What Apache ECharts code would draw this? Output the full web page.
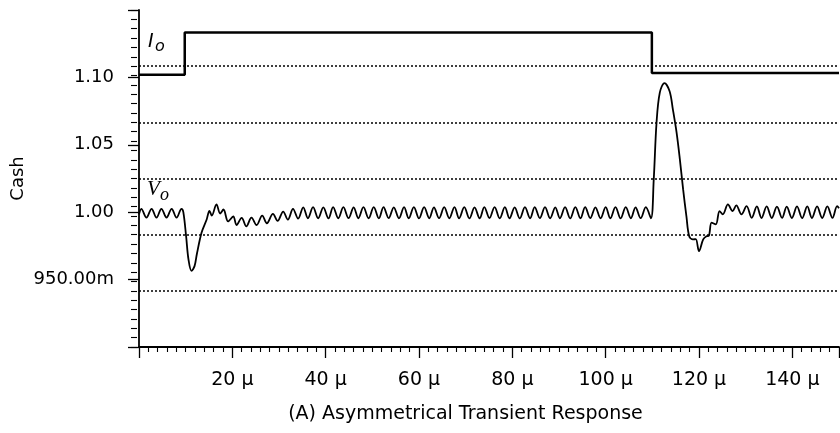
<!DOCTYPE html>
<html>
<head>
<meta charset="utf-8">
<script src="https://cdn.jsdelivr.net/npm/echarts@6/dist/echarts.min.js"></script>
<style>
html,body{margin:0;padding:0;background:#fff;}
#main{width:840px;height:433px;}
</style>
</head>
<body>
<div id="main"></div>
<script>
/* Io : step current */
var ioTime = [0, 9.8, 109.9, 150];
var ioLevel = [1.102, 1.1333, 1.1032, 1.1032];

/* Vo : output with ripple (peaks / troughs) */
var voTime = [
	0, 0.5, 1.6, 2.7, 3.75, 4.8, 5.9, 7.0, 8.05, 9.1,
	9.5, 10.1, 10.6, 11.25, 11.9, 12.4, 13.4, 14.5, 15.1, 15.6,
	16.6, 17.4, 18.1, 19.1, 20.2, 20.9, 22.0, 23.0, 24.1, 25.2,
	26.4, 27.4, 28.7, 29.7, 30.9, 31.9, 33.0, 34.1, 35.2, 36.2,
	37.3, 38.4, 39.5, 40.6, 41.6, 42.7, 43.8, 44.9, 46.0, 47.0,
	48.1, 49.2, 50.3, 51.4, 52.4, 53.5, 54.6, 55.7, 56.8, 57.8,
	58.9, 60.0, 61.1, 62.2, 63.2, 64.3, 65.4, 66.5, 67.6, 68.6,
	69.7, 70.8, 71.9, 73.0, 74.0, 75.1, 76.2, 77.3, 78.4, 79.4,
	80.5, 81.6, 82.7, 83.8, 84.8, 85.9, 87.0, 88.1, 89.2, 90.2,
	91.3, 92.4, 93.5, 94.6, 95.6, 96.7, 97.8, 98.9, 100.0, 101.0,
	102.1, 103.2, 104.3, 105.4, 106.4, 107.5, 108.6, 109.7, 110.3, 110.9,
	111.6, 112.6, 113.7, 114.4, 115.2, 115.9, 116.6, 117.3, 117.9, 118.7,
	119.3, 120.0, 120.9, 121.6, 122.1, 122.7, 123.6, 124.4, 125.1, 126.2,
	127.2, 128.0, 129.1, 130.2, 131.3, 132.4, 133.4, 134.5, 135.6, 136.7,
	137.8, 138.8, 139.9, 141.0, 142.1, 143.2, 144.2, 145.3, 146.4, 147.5,
	148.6, 149.6, 150
];
var voLevel = [
	0.9985, 1.0025, 0.9960, 1.0025, 0.9960, 1.0025, 0.9960, 1.0025, 0.9960, 1.0025,
	1.0000, 0.9820, 0.9650, 0.9565, 0.9600, 0.9690, 0.9848, 0.9946, 1.0010, 0.9975,
	1.0058, 0.9990, 1.0020, 0.9932, 0.9968, 0.9905, 0.9958, 0.9895, 0.9960, 0.9905,
	0.9975, 0.9918, 0.9988, 0.9935, 1.0005, 0.9945, 1.0025, 0.9952, 1.0036, 0.9955,
	1.0037, 0.9955, 1.0036, 0.9954, 1.0038, 0.9955, 1.0037, 0.9956, 1.0036, 0.9955,
	1.0037, 0.9955, 1.0038, 0.9954, 1.0037, 0.9956, 1.0036, 0.9955, 1.0037, 0.9955,
	1.0038, 0.9954, 1.0037, 0.9955, 1.0036, 0.9956, 1.0037, 0.9955, 1.0038, 0.9955,
	1.0037, 0.9954, 1.0036, 0.9955, 1.0037, 0.9956, 1.0038, 0.9955, 1.0037, 0.9955,
	1.0036, 0.9954, 1.0037, 0.9955, 1.0038, 0.9956, 1.0037, 0.9955, 1.0036, 0.9955,
	1.0037, 0.9954, 1.0038, 0.9955, 1.0037, 0.9956, 1.0036, 0.9955, 1.0037, 0.9955,
	1.0038, 0.9954, 1.0037, 0.9955, 1.0036, 0.9956, 1.0037, 0.9955, 1.0243, 1.0664,
	1.0887, 1.0958, 1.0898, 1.0763, 1.0590, 1.0392, 1.0169, 0.9971, 0.9822, 0.9798,
	0.9800, 0.9711, 0.9798, 0.9822, 0.9825, 0.9922, 0.9909, 1.0008, 0.9984, 1.0058,
	1.0008, 1.0051, 0.9984, 1.0045, 0.9958, 1.0043, 0.9957, 1.0043, 0.9957, 1.0042,
	0.9958, 1.0042, 0.9957, 1.0043, 0.9956, 1.0043, 0.9957, 1.0043, 0.9957, 1.0043,
	0.9958, 1.0045, 1.0030
];

var yTickValues = [0.95, 1.00, 1.05, 1.10];
var yTickLabels = ['950.00m', '1.00', '1.05', '1.10'];
var xTickValues = [20, 40, 60, 80, 100, 120, 140];
var xTickLabels = ['20 \u00b5', '40 \u00b5', '60 \u00b5', '80 \u00b5', '100 \u00b5', '120 \u00b5', '140 \u00b5'];
var yName = 'Cash';
var xName = '(A) Asymmetrical Transient Response';

var ink = '#000';
var font = 'DejaVu Sans';

/*按刻度值查标签*/
function pick(values, labels, v){
	for(var i = 0;i<values.length;i++){
		if(Math.abs(values[i]-v) < 1e-6){
			return labels[i];
		}
	}
	return '';
}
function pairs(t, v){
	return t.map(function(x, i){
		return [x, v[i]];
	});
}

var myChart = echarts.init(document.getElementById('main'));
var option = {
	animation: false,
	backgroundColor: '#fff',
	textStyle: {fontFamily: font, color: ink},
	grid: {left: 139, right: 1, top: 10, bottom: 86, outerBoundsMode: 'none'},
	xAxis: {
		type: 'value',
		min: 0,
		max: 150,
		interval: 20,
		name: xName,
		nameLocation: 'middle',
		nameGap: 58,
		nameMoveOverlap: false,
		nameTextStyle: {fontSize: 19, color: ink, fontFamily: font, padding: [0, 47, 0, 0]},
		axisLine: {onZero: false, lineStyle: {color: ink, width: 1.8}},
		axisTick: {length: 11, lineStyle: {color: ink, width: 1.3}},
		minorTick: {show: true, splitNumber: 10, length: 5, lineStyle: {color: ink, width: 1.1}},
		axisLabel: {
			margin: 24, fontSize: 19, color: ink, fontFamily: font,
			showMinLabel: false, showMaxLabel: false,
			formatter: function(v){ return pick(xTickValues, xTickLabels, v); }
		},
		splitLine: {show: false}
	},
	yAxis: [
		{
			type: 'value',
			position: 'left',
			offset: 2,
			min: 0.9,
			max: 1.15,
			interval: 0.05,
			name: yName,
			nameLocation: 'middle',
			nameGap: 110,
			nameMoveOverlap: false,
			nameTextStyle: {fontSize: 18, color: ink, fontFamily: font},
			axisLine: {show: true, lineStyle: {color: ink, width: 1.8}},
			axisTick: {show: true, length: 11, lineStyle: {color: ink, width: 1.3}},
			axisLabel: {
				margin: 23, fontSize: 18, color: ink, fontFamily: font,
				formatter: function(v){ return pick(yTickValues, yTickLabels, v); }
			},
			splitLine: {show: false}
		},
		{
			/*示波器格线*/
			type: 'value',
			position: 'left',
			offset: 2,
			min: 0,
			max: 6,
			interval: 1,
			axisLine: {show: false},
			axisTick: {show: true, length: 6, lineStyle: {color: ink, width: 1.1}},
			minorTick: {show: true, splitNumber: 6, length: 6, lineStyle: {color: ink, width: 1.1}},
			axisLabel: {show: false},
			splitLine: {
				show: true, showMinLine: false, showMaxLine: false,
				lineStyle: {type: [2, 2], color: ink, width: 1.5}
			}
		}
	],
	graphic: [
		{type: 'text', left: 148, top: 33, style: {text: 'I', fontSize: 19, fontStyle: 'italic', fontFamily: font, fill: ink}},
		{type: 'text', left: 155, top: 39, style: {text: 'o', fontSize: 16, fontStyle: 'italic', fontFamily: font, fill: ink}},
		{type: 'text', left: 147, top: 179, style: {text: 'V', fontSize: 21, fontStyle: 'italic', fontFamily: 'Liberation Serif', fill: ink}},
		{type: 'text', left: 160, top: 186, style: {text: 'o', fontSize: 18, fontStyle: 'italic', fontFamily: 'Liberation Serif', fill: ink}}
	],
	series: [
		{
			name: 'Io',
			type: 'line',
			yAxisIndex: 0,
			step: 'end',
			showSymbol: false,
			data: pairs(ioTime, ioLevel),
			lineStyle: {color: ink, width: 2.5}
		},
		{
			name: 'Vo',
			type: 'line',
			yAxisIndex: 0,
			smooth: 0.35,
			showSymbol: false,
			data: pairs(voTime, voLevel),
			lineStyle: {color: ink, width: 1.8}
		}
	]
};
myChart.setOption(option);
</script>
</body>
</html>
